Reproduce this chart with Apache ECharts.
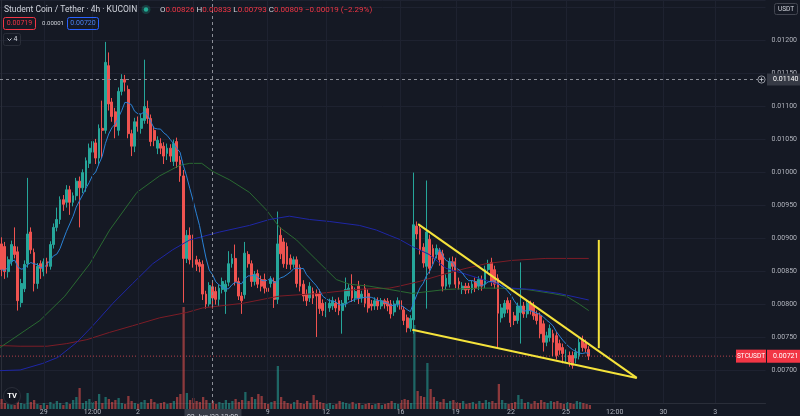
<!DOCTYPE html>
<html><head><meta charset="utf-8">
<script src="https://cdn.jsdelivr.net/npm/echarts@6/dist/echarts.min.js"></script>
<style>html,body{margin:0;padding:0;background:#151924;}#c{width:800px;height:416px;}</style>
</head><body><div id="c"></div>
<script>
// ---------- DATA ----------
// candles: [open, close, low, high], 4h STC/USDT
const candles = [
[0.00891,0.00852,0.00842,0.00901],[0.00887,0.00849,0.00838,0.00894],[0.00849,0.00867,0.00840,0.00872],[0.00864,0.00890,0.00858,0.00896],
[0.00887,0.00875,0.00869,0.00916],[0.00879,0.00805,0.00790,0.00887],[0.00802,0.00831,0.00795,0.00838],[0.00823,0.00860,0.00818,0.00866],
[0.00861,0.00906,0.00855,0.00991],[0.00909,0.00882,0.00876,0.00916],[0.00878,0.00831,0.00819,0.00884],[0.00831,0.00857,0.00823,0.00862],
[0.00861,0.00854,0.00838,0.00866],[0.00849,0.00864,0.00842,0.00869],[0.00864,0.00857,0.00846,0.00870],[0.00857,0.00890,0.00852,0.00895],
[0.00890,0.00916,0.00884,0.00922],[0.00916,0.00928,0.00910,0.00946],[0.00928,0.00958,0.00921,0.00963],[0.00958,0.00951,0.00941,0.00965],
[0.00954,0.00973,0.00946,0.00980],[0.00973,0.00954,0.00935,0.00979],[0.00954,0.00964,0.00948,0.00969],[0.00964,0.00986,0.00957,0.00991],
[0.00986,0.00976,0.00916,0.00993],[0.00976,0.00999,0.00968,0.01004],[0.00979,0.01017,0.00970,0.01022],[0.01013,0.01036,0.01006,0.01043],
[0.01030,0.01046,0.01015,0.01052],[0.01044,0.01021,0.01012,0.01050],[0.01021,0.01066,0.01010,0.01072],[0.01066,0.01063,0.01021,0.01108],
[0.01063,0.01166,0.01058,0.01197],[0.01161,0.01103,0.01093,0.01181],[0.01106,0.01084,0.01076,0.01112],[0.01091,0.01069,0.01051,0.01097],
[0.01063,0.01122,0.01055,0.01128],[0.01122,0.01140,0.01116,0.01148],[0.01140,0.01136,0.01122,0.01147],[0.01125,0.01058,0.01051,0.01131],
[0.01058,0.01039,0.01024,0.01064],[0.01039,0.01076,0.01030,0.01082],[0.01076,0.01069,0.01061,0.01084],[0.01066,0.01081,0.01058,0.01088],
[0.01078,0.01099,0.01073,0.01170],[0.01096,0.01081,0.01073,0.01108],[0.01081,0.01046,0.01039,0.01087],[0.01063,0.01048,0.01039,0.01069],
[0.01036,0.01048,0.01027,0.01054],[0.01043,0.01036,0.01027,0.01051],[0.01039,0.01024,0.01012,0.01045],[0.01028,0.01036,0.01018,0.01043],
[0.01036,0.01024,0.01015,0.01042],[0.01016,0.01043,0.01009,0.01049],[0.01046,0.01016,0.01006,0.01052],[0.01018,0.00994,0.00985,0.01024],
[0.00994,0.00869,0.00802,0.01003],[0.00869,0.00904,0.00862,0.00912],[0.00904,0.00867,0.00860,0.00916],[0.00897,0.00861,0.00855,0.00905],
[0.00867,0.00860,0.00850,0.00873],[0.00863,0.00857,0.00848,0.00868],[0.00860,0.00815,0.00806,0.00866],[0.00815,0.00800,0.00793,0.00820],
[0.00800,0.00828,0.00796,0.00833],[0.00826,0.00809,0.00793,0.00833],[0.00819,0.00807,0.00799,0.00826],[0.00807,0.00824,0.00797,0.00829],
[0.00822,0.00834,0.00816,0.00840],[0.00819,0.00830,0.00785,0.00836],[0.00833,0.00861,0.00827,0.00880],[0.00861,0.00869,0.00855,0.00876],
[0.00869,0.00834,0.00828,0.00890],[0.00834,0.00812,0.00806,0.00840],[0.00812,0.00805,0.00785,0.00818],[0.00814,0.00877,0.00808,0.00894],
[0.00875,0.00861,0.00855,0.00880],[0.00861,0.00834,0.00826,0.00866],[0.00834,0.00845,0.00828,0.00850],[0.00846,0.00830,0.00824,0.00852],
[0.00837,0.00827,0.00819,0.00843],[0.00837,0.00824,0.00816,0.00846],[0.00824,0.00819,0.00812,0.00830],[0.00831,0.00837,0.00825,0.00842],
[0.00834,0.00807,0.00794,0.00840],[0.00807,0.00891,0.00800,0.00940],[0.00904,0.00876,0.00868,0.00916],[0.00894,0.00861,0.00855,0.00900],
[0.00887,0.00860,0.00853,0.00893],[0.00869,0.00860,0.00852,0.00875],[0.00860,0.00867,0.00855,0.00872],[0.00867,0.00831,0.00825,0.00872],
[0.00855,0.00827,0.00819,0.00860],[0.00830,0.00812,0.00804,0.00836],[0.00815,0.00805,0.00797,0.00822],[0.00809,0.00827,0.00803,0.00833],
[0.00819,0.00809,0.00800,0.00825],[0.00816,0.00812,0.00750,0.00822],[0.00816,0.00793,0.00785,0.00822],[0.00801,0.00790,0.00782,0.00807],
[0.00786,0.00797,0.00780,0.00803],[0.00794,0.00801,0.00788,0.00808],[0.00797,0.00805,0.00791,0.00811],[0.00801,0.00794,0.00788,0.00807],
[0.00805,0.00790,0.00783,0.00810],[0.00790,0.00801,0.00755,0.00806],[0.00801,0.00822,0.00795,0.00840],[0.00812,0.00824,0.00806,0.00830],
[0.00827,0.00809,0.00803,0.00845],[0.00809,0.00819,0.00803,0.00825],[0.00827,0.00809,0.00800,0.00835],[0.00809,0.00815,0.00802,0.00820],
[0.00824,0.00801,0.00795,0.00830],[0.00816,0.00794,0.00787,0.00822],[0.00800,0.00797,0.00790,0.00806],[0.00797,0.00805,0.00791,0.00810],
[0.00805,0.00797,0.00791,0.00810],[0.00797,0.00805,0.00792,0.00809],[0.00805,0.00800,0.00793,0.00808],[0.00804,0.00797,0.00789,0.00809],
[0.00800,0.00785,0.00778,0.00806],[0.00788,0.00800,0.00782,0.00805],[0.00800,0.00805,0.00795,0.00810],[0.00805,0.00792,0.00786,0.00810],
[0.00791,0.00775,0.00768,0.00796],[0.00779,0.00764,0.00757,0.00784],[0.00763,0.00778,0.00758,0.00783],[0.00776,0.00920,0.00755,0.00999],
[0.00918,0.00906,0.00898,0.00925],[0.00914,0.00882,0.00875,0.00920],[0.00886,0.00862,0.00855,0.00892],[0.00857,0.00909,0.00793,0.00987],
[0.00898,0.00854,0.00846,0.00905],[0.00884,0.00869,0.00860,0.00890],[0.00875,0.00884,0.00869,0.00890],[0.00879,0.00867,0.00858,0.00885],
[0.00876,0.00827,0.00819,0.00882],[0.00827,0.00839,0.00821,0.00845],[0.00830,0.00864,0.00825,0.00870],[0.00864,0.00857,0.00850,0.00872],
[0.00864,0.00830,0.00824,0.00870],[0.00834,0.00830,0.00822,0.00840],[0.00822,0.00827,0.00815,0.00833],[0.00827,0.00821,0.00815,0.00832],
[0.00827,0.00822,0.00816,0.00832],[0.00822,0.00830,0.00816,0.00835],[0.00834,0.00824,0.00818,0.00840],[0.00827,0.00837,0.00821,0.00842],
[0.00837,0.00827,0.00820,0.00843],[0.00830,0.00852,0.00824,0.00858],[0.00852,0.00861,0.00846,0.00867],[0.00863,0.00834,0.00827,0.00870],
[0.00852,0.00830,0.00823,0.00858],[0.00839,0.00786,0.00733,0.00845],[0.00779,0.00794,0.00772,0.00800],[0.00786,0.00801,0.00780,0.00806],
[0.00805,0.00792,0.00786,0.00810],[0.00801,0.00772,0.00765,0.00806],[0.00782,0.00775,0.00768,0.00788],[0.00775,0.00797,0.00770,0.00802],
[0.00787,0.00797,0.00740,0.00863],[0.00797,0.00785,0.00779,0.00803],[0.00785,0.00801,0.00779,0.00806],[0.00800,0.00790,0.00784,0.00805],
[0.00797,0.00782,0.00776,0.00803],[0.00785,0.00775,0.00769,0.00790],[0.00782,0.00755,0.00748,0.00787],[0.00770,0.00742,0.00728,0.00775],
[0.00742,0.00752,0.00736,0.00758],[0.00749,0.00763,0.00743,0.00769],[0.00755,0.00742,0.00721,0.00761],[0.00752,0.00722,0.00716,0.00758],
[0.00740,0.00730,0.00723,0.00746],[0.00734,0.00725,0.00710,0.00740],[0.00718,0.00725,0.00712,0.00731],[0.00722,0.00712,0.00705,0.00728],
[0.00722,0.00707,0.00702,0.00728],[0.00718,0.00727,0.00710,0.00733],[0.00722,0.00742,0.00716,0.00748],[0.00746,0.00734,0.00728,0.00752],
[0.00740,0.00733,0.00727,0.00746],[0.00731,0.00721,0.00715,0.00736]
];
// volume (relative units)
const volumes = [
10,6,5,8,4,9,6,5,16,7, 9,5,4,6,4,7,5,8,6,4, 7,5,9,12,21,6,8,10,7,8, 15,6,12,10,7,9,11,6,5,13,
8,6,5,7,9,6,10,7,5,6, 7,5,6,8,12,15,102,16,9,11, 8,7,12,9,6,8,5,7,6,9, 6,8,10,7,9,17,8,12,10,15,
13,6,5,7,8,43,12,8,6,5, 7,9,6,5,8,6,14,9,7,6, 5,6,4,5,8,7,6,5,7,5, 6,4,5,6,4,5,6,4,5,6,
8,6,5,9,10,9,6,84,18,13, 12,46,20,12,8,7,10,6,8,9, 7,6,8,5,6,7,5,8,6,9, 7,8,6,25,9,6,5,6,7,14,
10,6,7,5,8,6,9,7,6,8, 7,8,6,5,7,6,5,8,7,6, 5,4
];
const totalSlots = 236;            // candle slots incl. empty space on the right
const timeTicks = [13, 28, 42, 59, 82, 100, 123, 140, 157, 174, 189, 204, 220];
const timeLabels = ['29', '12:00', '2', '5', '9', '12', '16', '19', '22', '25', '12:00', '30', '3'];
const crossIndex = 65;
const crossPrice = 0.0114;
const crossTimeLabel = "02 Jun '23 12:00";
const lastPrice = 0.00721;
const bidPrice = 0.00719, askPrice = 0.00720, spreadVal = 0.00001;
const fastPeriod = 9;
// slower moving averages: [slot, price]
const maGreen = [[-0.5,0.00734],[11.8,0.00775],[19.5,0.00812],[27.2,0.00861],[33.3,0.00912],[41.7,0.00969],[48.7,0.00994],[54.9,0.01010],[58,0.01013],[61.7,0.01013],[65,0.01001],[70.3,0.00988],[76.4,0.00969],[81.7,0.00942],[85.7,0.00916],[90.9,0.00897],[97,0.00867],[103.2,0.00837],[107.2,0.00830],[113.3,0.00827],[119.5,0.00822],[126.6,0.00816],[137,0.00822],[147.2,0.00824],[153.3,0.00824],[161.7,0.00822],[169.7,0.00816],[174,0.00812],[178,0.00800],[181,0.00790]];
const maNavy = [[-0.5,0.00699],[5.7,0.00700],[12.7,0.00710],[17.3,0.00719],[23.2,0.00742],[28.1,0.00767],[34.3,0.00801],[40.4,0.00831],[46.6,0.00861],[52.7,0.00882],[58,0.00897],[67.2,0.00909],[76.4,0.00919],[82.6,0.00928],[88.7,0.00933],[94.9,0.00928],[101,0.00925],[110.3,0.00919],[115.5,0.00912],[119.5,0.00904],[122.6,0.00898],[126.6,0.00887],[131.8,0.00875],[137,0.00854],[143.2,0.00845],[150.3,0.00834],[157.3,0.00824],[163.5,0.00822],[171.8,0.00816],[181,0.00806]];
const maRed = [[-0.5,0.00737],[5.7,0.00736],[14,0.00736],[20.1,0.00740],[26.3,0.00746],[33.3,0.00757],[40.4,0.00767],[48.7,0.00779],[57,0.00787],[62,0.00794],[74.3,0.00801],[85.7,0.00812],[98,0.00816],[109.3,0.00822],[119.5,0.00824],[122.6,0.00827],[128.7,0.00834],[137,0.00846],[143.2,0.00854],[149.3,0.00861],[157.3,0.00866],[167.8,0.00869],[181,0.00869]];
// drawings (falling wedge + target)
const wedgeUpper = [[128.4,0.00921],[195.8,0.00688]];
const wedgeLower = [[126.6,0.00761],[195.8,0.00688]];
const targetLine = [[184.1,0.00897],[184.1,0.00733]];

// ---------- BUILD ----------
const UP = '#26a69a', DN = '#ef5350';
const cats = Array.from({length: totalSlots}, (_, i) => String(i));
const fastMA = candles.map((c, i) => {
  const s = Math.max(0, i - fastPeriod + 1); let sum = 0;
  for (let k = s; k <= i; k++) sum += candles[k][1];
  return [i, sum / (i - s + 1)];
});
const volData = volumes.map((v, i) => ({value: v, itemStyle: {color: candles[i][1] >= candles[i][0] ? 'rgba(38,166,154,0.55)' : 'rgba(239,83,80,0.55)'}}));
const FONT = 'Roboto';
const xMin = -0.5, xMax = totalSlots - 0.5;
const lineS = (data, color, w, z, type) => ({type: 'line', xAxisIndex: 1, yAxisIndex: 0, data, showSymbol: false, symbol: 'none', silent: true, z: z || 3, lineStyle: {color, width: w || 1, type: type || 'solid'}});

const chart = echarts.init(document.getElementById('c'));
chart.setOption({
  backgroundColor: '#151924',
  animation: false,
  grid: [{left: 0, right: 33, top: 0, bottom: 7}, {left: 0, right: 33, bottom: 7, height: 110}],
  xAxis: [
    {type: 'category', gridIndex: 0, data: cats, boundaryGap: true,
     axisLine: {show: true, lineStyle: {color: '#2a2e39'}}, axisTick: {show: false}, splitLine: {show: false},
     axisLabel: {show: true, interval: (i) => timeTicks.indexOf(i) >= 0, formatter: (v, i) => { const k = timeTicks.indexOf(i); return k >= 0 ? timeLabels[k] : ''; },
       color: '#b2b5be', fontSize: 7, margin: 6, fontFamily: FONT}},
    {type: 'value', gridIndex: 0, min: xMin, max: xMax, show: false},
    {type: 'category', gridIndex: 1, data: cats, boundaryGap: true, show: false}
  ],
  yAxis: [
    {type: 'value', gridIndex: 0, position: 'right', min: 0.0065, max: 0.0126045, interval: 0.0005,
     axisLine: {show: true, lineStyle: {color: '#2a2e39'}}, axisTick: {show: false},
     splitLine: {show: true, lineStyle: {color: '#1e2230'}},
     axisLabel: {color: '#b2b5be', fontSize: 7, margin: 6, fontFamily: FONT,
       formatter: v => (v < 0.0068 || v > 0.0122) ? '' : v.toFixed(5)}},
    {type: 'value', gridIndex: 1, min: 0, max: 110, show: false}
  ],
  series: [
    {type: 'line', xAxisIndex: 1, yAxisIndex: 0, data: [[0, 0.0065]], showSymbol: false, silent: true, z: 0,
     lineStyle: {opacity: 0},
     markLine: {silent: true, symbol: 'none', label: {show: false}, animation: false,
       lineStyle: {color: '#1e2230', type: 'solid', width: 1},
       data: timeTicks.map(t => ({xAxis: t}))}},
    {type: 'bar', xAxisIndex: 2, yAxisIndex: 1, data: volData, barWidth: '70%', z: 1, silent: true},
    {type: 'candlestick', xAxisIndex: 0, yAxisIndex: 0, data: candles, barWidth: '72%', z: 2, silent: true,
     itemStyle: {color: UP, color0: DN, borderColor: UP, borderColor0: DN, borderWidth: 1}},
    lineS(maRed, '#7d1d27', 1),
    lineS(maGreen, '#2a6a32', 1),
    lineS(maNavy, '#1f27a6', 1),
    lineS(fastMA, '#2a82d6', 1),
    lineS(wedgeUpper, '#f5e33b', 2, 5),
    lineS(wedgeLower, '#f5e33b', 2, 5),
    lineS(targetLine, '#f5e33b', 2, 5),
    lineS([[xMin, crossPrice], [xMax, crossPrice]], '#8b8e97', 1, 6, [3, 3]),
    lineS([[xMin, lastPrice], [xMax, lastPrice]], '#b3404a', 1, 1, [1, 2]),
    {type: 'line', xAxisIndex: 1, yAxisIndex: 0, data: [[0, 0.0065]], showSymbol: false, silent: true, z: 6,
     lineStyle: {opacity: 0},
     markLine: {silent: true, symbol: 'none', label: {show: false}, animation: false,
       data: [{xAxis: crossIndex, lineStyle: {color: '#8b8e97', type: [3, 3], width: 1}}]}}
  ]
});

// ---------- LABELS / OVERLAYS ----------
const yPx = v => chart.convertToPixel({yAxisIndex: 0}, v);
const xPx = v => chart.convertToPixel({xAxisIndex: 1}, v);
const yc = yPx(crossPrice), yl = yPx(lastPrice), xc = xPx(crossIndex);
const axisX = 767;
const cc = candles[crossIndex], prevC = candles[crossIndex - 1][1];
const chg = cc[1] - prevC, pct = chg / prevC * 100;
const sgn = n => (n < 0 ? '\u2212' : '+') + Math.abs(n).toFixed(5);
const ohlc = '{l|O}{r|' + cc[0].toFixed(5) + '} {l|H}{r|' + cc[3].toFixed(5) + '} {l|L}{r|' + cc[2].toFixed(5) + '} {l|C}{r|' + cc[1].toFixed(5) + '} {r|' + sgn(chg) + ' (' + (pct < 0 ? '\u2212' : '+') + Math.abs(pct).toFixed(2) + '%)}';
const T = (x, y, text, o) => Object.assign({type: 'text', x, y, z: 100, silent: true, style: Object.assign({text, fill: '#d1d4dc', fontSize: 7, fontFamily: FONT, verticalAlign: 'middle'}, o || {})});
const R = (x, y, w, h, style) => ({type: 'rect', z: 99, silent: true, shape: {x, y, width: w, height: h, r: 2}, style});
chart.setOption({graphic: [
  T(4, 9.5, 'Student Coin / Tether \u00b7 4h \u00b7 KUCOIN', {fontSize: 8.5}),
  {type: 'circle', z: 99, shape: {cx: 146, cy: 9.5, r: 4.5}, style: {fill: 'rgba(34,171,148,0.25)'}},
  {type: 'circle', z: 100, shape: {cx: 146, cy: 9.5, r: 2.2}, style: {fill: '#22ab94'}},
  T(160, 9.5, ohlc, {fontSize: 8, rich: {l: {fill: '#d1d4dc', fontSize: 8, fontFamily: FONT}, r: {fill: '#f23645', fontSize: 8, fontFamily: FONT}}}),
  R(3.5, 17.5, 32, 12, {fill: 'none', stroke: '#f23645', lineWidth: 1}),
  T(19.5, 23.5, bidPrice.toFixed(5), {fill: '#f23645', align: 'center', fontSize: 7}),
  T(53, 23.5, spreadVal.toFixed(5), {align: 'center', fontSize: 6}),
  R(67.5, 17.5, 31, 12, {fill: 'none', stroke: '#2962ff', lineWidth: 1}),
  T(83, 23.5, askPrice.toFixed(5), {fill: '#4a80f0', align: 'center', fontSize: 7}),
  R(3.5, 33.5, 17, 12, {fill: 'none', stroke: '#2a2e39', lineWidth: 1}),
  {type: 'polyline', z: 100, shape: {points: [[7.5, 38.5], [9.5, 40.5], [11.5, 38.5]]}, style: {stroke: '#d1d4dc', lineWidth: 1, fill: 'none'}},
  T(13.5, 39.5, '4', {fontSize: 7}),
  R(774.5, 3.5, 23, 11, {fill: '#151924', stroke: '#434651', lineWidth: 1}),
  T(786, 9, 'USDT', {align: 'center', fontSize: 6.5}),
  // crosshair price label
  {type: 'rect', z: 99, silent: true, shape: {x: axisX, y: yc - 6, width: 33, height: 12}, style: {fill: '#363a45'}},
  T(773, yc, crossPrice.toFixed(5), {fill: '#ffffff', fontSize: 7}),
  {type: 'circle', z: 100, shape: {cx: 761.5, cy: yc, r: 3.6}, style: {fill: '#151924', stroke: '#b2b5be', lineWidth: 0.8}},
  {type: 'line', z: 101, shape: {x1: 759.5, y1: yc, x2: 763.5, y2: yc}, style: {stroke: '#d1d4dc', lineWidth: 0.8}},
  {type: 'line', z: 101, shape: {x1: 761.5, y1: yc - 2, x2: 761.5, y2: yc + 2}, style: {stroke: '#d1d4dc', lineWidth: 0.8}},
  // last price labels
  {type: 'rect', z: 99, silent: true, shape: {x: axisX, y: yl - 6.5, width: 33, height: 13}, style: {fill: '#f23645'}},
  T(773, yl, lastPrice.toFixed(5), {fill: '#ffffff', fontSize: 7}),
  {type: 'rect', z: 99, silent: true, shape: {x: 736, y: yl - 6.5, width: 30, height: 13}, style: {fill: '#f23645'}},
  T(751, yl, 'STCUSDT', {fill: '#ffffff', fontSize: 6.5, align: 'center'}),
  // crosshair time label
  {type: 'rect', z: 99, silent: true, shape: {x: xc - 28, y: 409, width: 57, height: 8}, style: {fill: '#363a45'}},
  T(xc, 414, crossTimeLabel, {align: 'center', verticalAlign: 'top', fontSize: 7}),
  // TradingView logo
  {type: 'circle', z: 100, shape: {cx: 12, cy: 396, r: 8.5}, style: {fill: '#131722', stroke: '#2a2e39', lineWidth: 1}},
  T(12, 396.5, 'TV', {align: 'center', fontSize: 7.5, fontWeight: 'bold', fill: '#ffffff'})
]});
</script>
</body></html>
